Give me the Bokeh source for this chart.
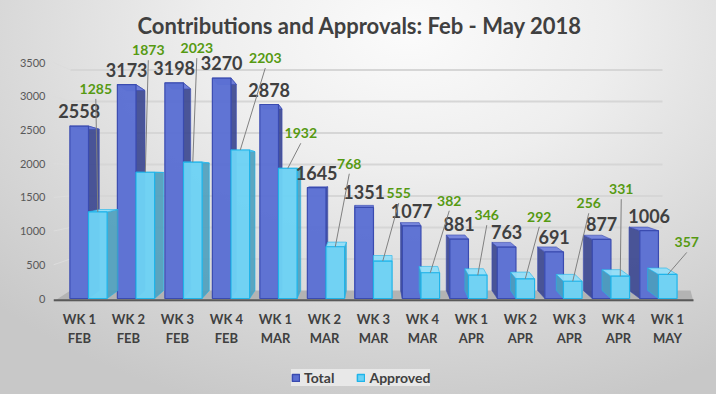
import numpy as np
from bokeh.plotting import figure
from bokeh.layouts import column
from bokeh.models import Range1d, FixedTicker, Legend, LegendItem
from bokeh.core.properties import value
from bokeh.embed import file_html
from bokeh.resources import INLINE

# ---------------- data ----------------
categories = ["WK 1\nFEB", "WK 2\nFEB", "WK 3\nFEB", "WK 4\nFEB",
              "WK 1\nMAR", "WK 2\nMAR", "WK 3\nMAR", "WK 4\nMAR",
              "WK 1\nAPR", "WK 2\nAPR", "WK 3\nAPR", "WK 4\nAPR", "WK 1\nMAY"]
total = [2558, 3173, 3198, 3270, 2878, 1645, 1351, 1077, 881, 763, 691, 877, 1006]
approved = [1285, 1873, 2023, 2203, 1932, 768, 555, 382, 346, 292, 256, 331, 357]
y_ticks = [0, 500, 1000, 1500, 2000, 2500, 3000, 3500]
series_names = ["Total", "Approved"]

# label layout: pixel offsets of the green labels from the top of their bars
approved_label_dx = [-2, 3, 4, 25, 13, 14, 16, 19, 9, 14, 16, 1, 19]
approved_label_up = [123, 122, 114, 92, 35, 83, 68, 72, 60, 62, 78, 87, 32]

# ---------------- layout ----------------
W, H1, H2 = 716, 351, 43
BL, BR, BT, BB = 53, 0, 37, 50
PX_X = 49.0                      # px per category step
FLOOR_W = 640                    # px width of the chart floor
fw, fh = W - BL - BR, H1 - BT - BB
x0 = -0.53
x1 = x0 + fw / PX_X
y0, y1 = -44.5, 3872
sx = fw / (x1 - x0)      # px per x unit
sy = fh / (y1 - y0)      # px per y unit
xf = x0 + FLOOR_W / sx   # right end of the floor

FONT = "Lato"
DARK = "#404040"
GREEN = "#569a12"
TOTAL_C = ("#5b6fd3", "#3a4bb0", "#38458f", "#7282dc")
APPR_C = ("#6dd2f4", "#1fb4ea", "#4c9fbd", "#92def8")

p = figure(width=W, height=H1, output_backend="svg", toolbar_location=None,
           x_range=Range1d(x0, x1), y_range=Range1d(y0, y1),
           min_border_left=BL, min_border_right=BR, min_border_top=BT, min_border_bottom=BB)
p.border_fill_alpha = 0
p.background_fill_alpha = 0
p.outline_line_color = None
p.xgrid.grid_line_color = None
p.ygrid.grid_line_color = None

p.title.text = "Contributions and Approvals: Feb - May 2018"
p.title.align = "left"
p.title.offset = 84
p.title.text_font = FONT
p.title.text_font_size = "22px"
p.title.text_font_style = "bold"
p.title.text_color = DARK
p.title.standoff = -3

# ---------------- 3D geometry helpers ----------------
n = len(total)
idx = np.arange(n)
mid = (n - 1) / 2
persp = 0.9693
g = mid + (idx - mid) * persp          # boundary between the two bars of a group
bw = 0.38
depth = (mid - idx) * 1.8 / sx         # side-face depth (sign = side shown)
back_shift = 8 / sy
back_scale = 0.935

# floor and back wall
wall_l = x0 + 17 / sx
wall_r = x0 + 609 / sx
p.patch([x0, xf, xf - 3 / sx, wall_l], [y0, y0, back_shift, back_shift],
        fill_color="#b3b3b3", line_color=None)
tv = np.array(y_ticks[1:], dtype=float)
wy = back_shift + back_scale * tv
p.segment(x0=[wall_l] * len(tv), y0=wy, x1=[wall_r] * len(tv), y1=wy,
          line_color="#d6d6d6", line_width=2)
p.segment(x0=[x0] * len(tv), y0=tv, x1=[wall_l] * len(tv), y1=wy,
          line_color="#dcdcdc", line_width=1)
# front edge of the floor (the category axis line)
p.segment(x0=[x0], y0=[y0 + 1.2 / sy], x1=[xf], y1=[y0 + 1.2 / sy],
          line_color="#595959", line_width=2.2)


def bars3d(xl, xr, h, colors):
    front, line, side, top = colors
    h = np.asarray(h, dtype=float)
    hb = back_shift + back_scale * h
    edge = np.where(depth > 0, xr, xl)
    xs_side = [[e, e, e + d, e + d] for e, d in zip(edge, depth)]
    ys_side = [[0, hh, b, back_shift] for hh, b in zip(h, hb)]
    p.patches(xs_side, ys_side, fill_color=side, fill_alpha=0.9, line_color=line, line_alpha=0.6)
    xs_top = [[a, b, b + d, a + d] for a, b, d in zip(xl, xr, depth)]
    ys_top = [[hh, hh, b, b] for hh, b in zip(h, hb)]
    p.patches(xs_top, ys_top, fill_color=top, fill_alpha=0.95, line_color=line, line_alpha=0.6)
    return p.quad(left=xl, right=xr, bottom=0, top=h, fill_color=front,
                  fill_alpha=0.97, line_color=line, line_width=1.2)


bars3d(g - bw, g, total, TOTAL_C)
bars3d(g, g + bw, approved, APPR_C)

# ---------------- labels ----------------
p.text(x=g - bw / 2, y=np.array(total) + 15 / sy, text=[str(v) for v in total],
       text_font=value(FONT), text_font_size="18px", text_font_style="bold",
       text_color=DARK, text_align="center", text_baseline="middle")

ax = g + bw / 2
lx = ax + np.array(approved_label_dx) / sx
ly = np.array(approved) + np.array(approved_label_up) / sy
p.segment(x0=lx, y0=ly - 10 / sy, x1=ax, y1=approved, line_color="#808080", line_width=1)
p.text(x=lx, y=ly, text=[str(v) for v in approved],
       text_font=value(FONT), text_font_size="14px", text_font_style="bold",
       text_color=GREEN, text_align="center", text_baseline="middle")

# ---------------- axes ----------------
p.yaxis.ticker = FixedTicker(ticks=y_ticks)
p.yaxis.axis_line_color = None
p.yaxis.major_tick_line_color = None
p.yaxis.minor_tick_line_color = None
p.yaxis.major_tick_out = 0
p.yaxis.major_tick_in = 0
p.yaxis.major_label_text_font = FONT
p.yaxis.major_label_text_font_size = "11px"
p.yaxis.major_label_text_color = "#595959"
p.yaxis.major_label_standoff = 8

p.xaxis.ticker = FixedTicker(ticks=list(range(n)))
p.xaxis.major_label_overrides = {i: c for i, c in enumerate(categories)}
p.xaxis.axis_line_color = None
p.xaxis.major_tick_line_color = None
p.xaxis.minor_tick_line_color = None
p.xaxis.major_tick_out = 0
p.xaxis.major_tick_in = 0
p.xaxis.major_label_text_font = FONT
p.xaxis.major_label_text_font_size = "13px"
p.xaxis.major_label_text_font_style = "bold"
p.xaxis.major_label_text_color = DARK
p.xaxis.major_label_standoff = 9

# ---------------- legend strip (frame aligned with the chart frame) ----------------
q = figure(width=W, height=H2, output_backend="svg", toolbar_location=None,
           x_range=Range1d(0, 1), y_range=Range1d(0, 1),
           min_border_left=BL, min_border_right=BR, min_border_top=0, min_border_bottom=0)
q.axis.visible = False
q.grid.visible = False
q.outline_line_color = None
q.border_fill_alpha = 0
q.background_fill_alpha = 0
lr = [q.quad(left=[5], right=[6], bottom=[5], top=[6], fill_color=c[0], line_color=c[1], line_width=1.5)
      for c in (TOTAL_C, APPR_C)]
legend = Legend(items=[LegendItem(label=s, renderers=[r]) for s, r in zip(series_names, lr)],
                orientation="horizontal", location=(238, 8),
                label_text_font=FONT, label_text_font_size="14px",
                label_text_font_style="bold", label_text_color=DARK,
                background_fill_color="#e8e8e8", background_fill_alpha=1,
                border_line_color=None, glyph_width=9, glyph_height=9,
                label_height=9, label_standoff=4, spacing=22, padding=9, margin=0)
q.add_layout(legend)

layout = column(p, q, spacing=0)
layout.styles = {"background": "radial-gradient(ellipse 80% 100% at 57% 8%, #fbfbfb 0%, #eeeeee 35%, #d8d8d8 72%, #c8c8c8 100%)"}

open("out.html", "w").write(file_html(layout, INLINE))
